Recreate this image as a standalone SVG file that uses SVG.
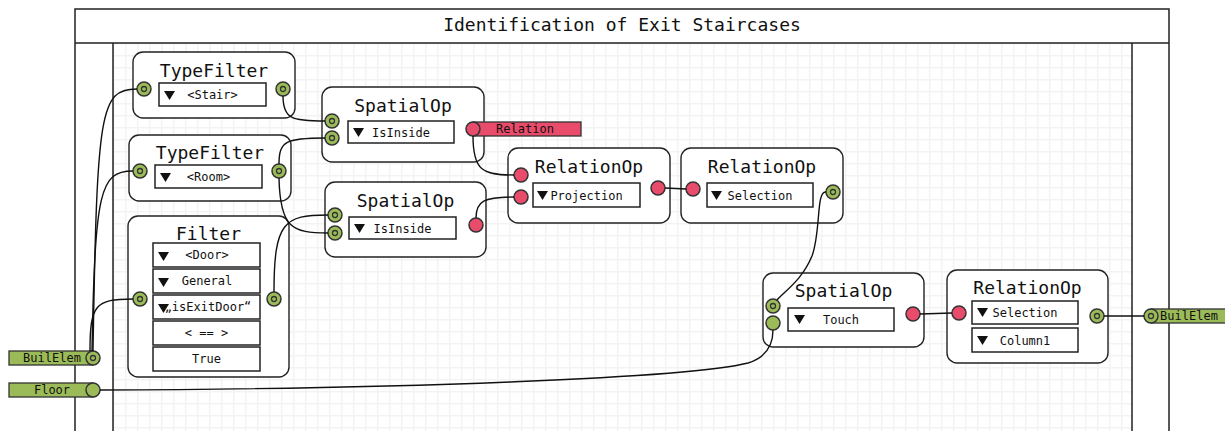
<svg xmlns="http://www.w3.org/2000/svg" xmlns:xlink="http://www.w3.org/1999/xlink" width="1225" height="431" viewBox="0 0 1225 431">
<style>
.node{fill:#fff;stroke:#222;stroke-width:1.4}
.box{fill:#fff;stroke:#222;stroke-width:1.5}
.ttl{font-family:"DejaVu Sans Mono","Liberation Mono",monospace;font-size:18px;fill:#111;text-anchor:middle}
.lbl{font-family:"DejaVu Sans Mono","Liberation Mono",monospace;font-size:12px;fill:#111;text-anchor:middle}
.frame{fill:none;stroke:#222;stroke-width:1.5}
.wire{fill:none;stroke:#111;stroke-width:1.4}
.gbar{fill:#9bbb59;stroke:#333;stroke-width:1.3}
.rbar{fill:#e94b6b;stroke:#333;stroke-width:1.3}
</style>
<defs>
<pattern id="grid" x="113" y="43" width="12" height="12" patternUnits="userSpaceOnUse">
<rect x="0" y="0" width="12" height="1.5" fill="#f3f3f3"/>
<rect x="0" y="0" width="1.5" height="12" fill="#f3f3f3"/>
</pattern>
<path id="tri" d="M0,0 L11,0 L5.5,9 Z" fill="#111"/>
<g id="gp"><circle r="7" fill="#9bbb59" stroke="#333" stroke-width="1.5"/><circle r="2.5" fill="none" stroke="#333" stroke-width="1.3"/></g>
<circle id="gpl" r="7" fill="#9bbb59" stroke="#333" stroke-width="1.5"/>
<circle id="rp" r="7" fill="#e94b6b" stroke="#333" stroke-width="1.5"/>
</defs>
<rect width="1225" height="431" fill="#fff"/>
<g id="frame">
<rect x="113" y="43" width="1019" height="388" fill="url(#grid)"/>
<path class="frame" d="M75,431 L75,9 L1169,9 L1169,431 M75,43 L1169,43 M113,43 L113,431 M1132,43 L1132,431"/>
<text class="ttl" x="622" y="31">Identification of Exit Staircases</text>
</g>
<g id="in-builelem">
<rect class="gbar" x="9" y="351" width="84" height="14"/>
<text class="lbl" x="52" y="362">BuilElem</text>
<use href="#gp" x="93" y="358"/>
</g>
<g id="in-floor">
<rect class="gbar" x="9" y="383" width="84" height="14"/>
<text class="lbl" x="52" y="394">Floor</text>
<use href="#gpl" x="93" y="390"/>
</g>
<g id="typefilter-stair">
<rect class="node" x="133" y="52" width="162" height="66" rx="10"/>
<text class="ttl" x="214" y="77">TypeFilter</text>
<rect class="box" x="159" y="83" width="107" height="23"/>
<use href="#tri" x="164" y="91"/>
<text class="lbl" x="212.5" y="99">&lt;Stair&gt;</text>
<use href="#gp" x="144" y="89"/>
<use href="#gp" x="283" y="89"/>
</g>
<g id="typefilter-room">
<rect class="node" x="129" y="135" width="162" height="66" rx="10"/>
<text class="ttl" x="210" y="159">TypeFilter</text>
<rect class="box" x="155" y="165" width="107" height="23"/>
<use href="#tri" x="160" y="173"/>
<text class="lbl" x="208.5" y="181">&lt;Room&gt;</text>
<use href="#gp" x="140" y="171"/>
<use href="#gp" x="279" y="171"/>
</g>
<g id="filter">
<rect class="node" x="128" y="216" width="161" height="161" rx="10"/>
<text class="ttl" x="208.5" y="240">Filter</text>
<rect class="box" x="153" y="243" width="107" height="24"/>
<use href="#tri" x="158" y="252"/>
<text class="lbl" x="207" y="259">&lt;Door&gt;</text>
<rect class="box" x="153" y="269" width="107" height="24"/>
<use href="#tri" x="158" y="278"/>
<text class="lbl" x="207" y="285">General</text>
<rect class="box" x="153" y="295" width="107" height="24"/>
<use href="#tri" x="158" y="304"/>
<text class="lbl" x="208" y="311">„isExitDoor“</text>
<rect class="box" x="153" y="321" width="107" height="24"/>
<text class="lbl" x="206.5" y="337">&lt; == &gt;</text>
<rect class="box" x="153" y="347" width="107" height="24"/>
<text class="lbl" x="206.5" y="363">True</text>
<use href="#gp" x="140" y="299"/>
<use href="#gp" x="274" y="299"/>
</g>
<g id="spatialop-1">
<rect class="node" x="322" y="87" width="162" height="75" rx="10"/>
<text class="ttl" x="403" y="112">SpatialOp</text>
<rect class="box" x="348" y="121" width="106" height="22"/>
<use href="#tri" x="353" y="128"/>
<text class="lbl" x="401" y="137">IsInside</text>
<use href="#gp" x="332" y="121"/>
<use href="#gp" x="332" y="138"/>
</g>
<g id="out-relation">
<rect class="rbar" x="473" y="122" width="108" height="14"/>
<text class="lbl" x="525" y="133">Relation</text>
<use href="#rp" x="473" y="129"/>
</g>
<g id="spatialop-2">
<rect class="node" x="325" y="182" width="161" height="75" rx="10"/>
<text class="ttl" x="405.5" y="207">SpatialOp</text>
<rect class="box" x="349" y="217" width="107" height="22"/>
<use href="#tri" x="354" y="224"/>
<text class="lbl" x="402.5" y="233">IsInside</text>
<use href="#gp" x="335" y="215"/>
<use href="#gp" x="335" y="233"/>
<use href="#rp" x="476" y="225"/>
</g>
<g id="relationop-1">
<rect class="node" x="508" y="148" width="162" height="75" rx="10"/>
<text class="ttl" x="589" y="173">RelationOp</text>
<rect class="box" x="533" y="183" width="107" height="24"/>
<use href="#tri" x="537" y="191"/>
<text class="lbl" x="586.5" y="200">Projection</text>
<use href="#rp" x="521" y="175"/>
<use href="#rp" x="521" y="197"/>
<use href="#rp" x="658" y="188"/>
</g>
<g id="relationop-2">
<rect class="node" x="681" y="148" width="162" height="75" rx="10"/>
<text class="ttl" x="762" y="173">RelationOp</text>
<rect class="box" x="707" y="183" width="106" height="24"/>
<use href="#tri" x="711" y="191"/>
<text class="lbl" x="760" y="200">Selection</text>
<use href="#rp" x="693" y="189"/>
<use href="#gp" x="833" y="192"/>
</g>
<g id="spatialop-3">
<rect class="node" x="763" y="273" width="161" height="74" rx="10"/>
<text class="ttl" x="843.5" y="297">SpatialOp</text>
<rect class="box" x="788" y="308" width="106" height="23"/>
<use href="#tri" x="794" y="315"/>
<text class="lbl" x="841" y="324">Touch</text>
<use href="#gp" x="773" y="306"/>
<use href="#gpl" x="773" y="323"/>
<use href="#rp" x="913" y="314"/>
</g>
<g id="relationop-3">
<rect class="node" x="947" y="270" width="161" height="93" rx="10"/>
<text class="ttl" x="1027.5" y="294">RelationOp</text>
<rect class="box" x="972" y="301" width="106" height="23"/>
<use href="#tri" x="977" y="308"/>
<text class="lbl" x="1025" y="317">Selection</text>
<rect class="box" x="972" y="328" width="106" height="24"/>
<use href="#tri" x="977" y="336"/>
<text class="lbl" x="1025" y="345">Column1</text>
<use href="#rp" x="959" y="313"/>
<use href="#gp" x="1097" y="316"/>
</g>
<g id="out-builelem">
<rect class="gbar" x="1151" y="309" width="80" height="14"/>
<text class="lbl" x="1189" y="320">BuilElem</text>
<use href="#gp" x="1151" y="316"/>
</g>
<g id="connectors">
<path class="wire" d="M93,351 C97,110 100,89 137,89"/>
<path class="wire" d="M92,351 C95,190 100,171 133,171"/>
<path class="wire" d="M90,351 C90,305 95,299 133,299"/>
<path class="wire" d="M283,96 C283,119 292,121 325,121"/>
<path class="wire" d="M279,164 C279,141 286,138 325,138"/>
<path class="wire" d="M279,178 C280,228 292,233 328,233"/>
<path class="wire" d="M274,292 C274,222 284,215 328,215"/>
<path class="wire" d="M473,136 C473,170 482,175 514,175"/>
<path class="wire" d="M476,218 C476,201 484,197 514,197"/>
<path class="wire" d="M665,188 L686,189"/>
<path class="wire" d="M826,192 C816,190 821,232 812,256 C802,280 786,290 777,300"/>
<path class="wire" d="M100,390 C400,389 690,378 748,363 C767,357 773,345 773,330"/>
<path class="wire" d="M920,314 L952,313"/>
<path class="wire" d="M1104,316 L1144,316"/>
</g>
</svg>
